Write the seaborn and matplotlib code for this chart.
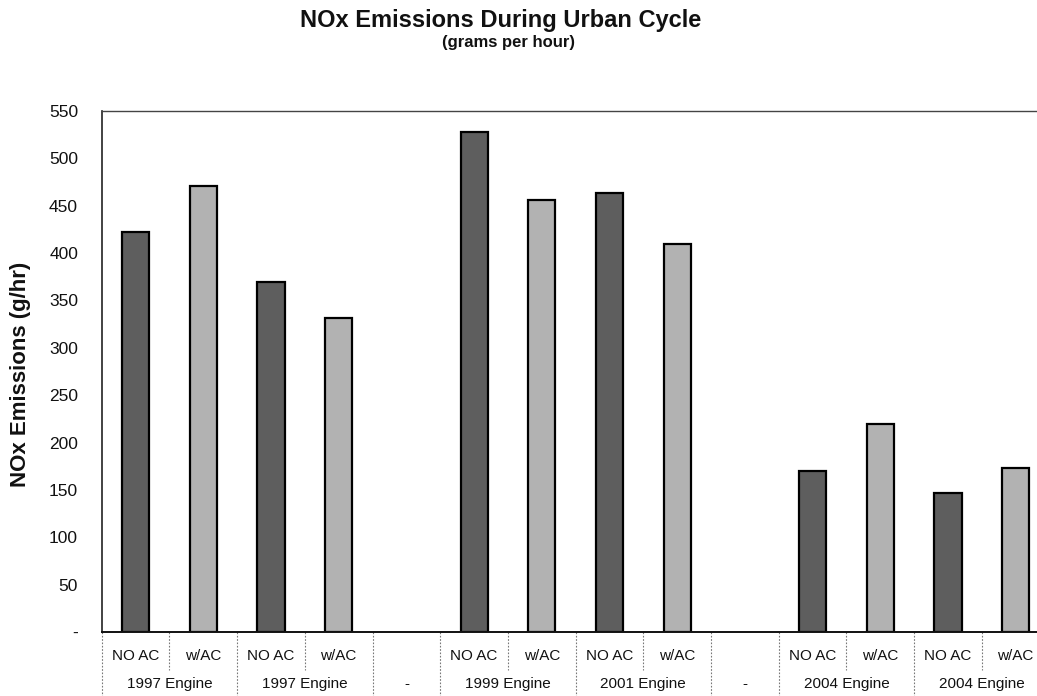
import numpy as np
import pandas as pd
import matplotlib
matplotlib.use("Agg")
import matplotlib.pyplot as plt
import matplotlib.transforms as mtransforms
import seaborn as sns

# --- data -------------------------------------------------------------
ac_labels = ["NO AC", "w/AC", "NO AC", "w/AC", "",
             "NO AC", "w/AC", "NO AC", "w/AC", "",
             "NO AC", "w/AC", "NO AC", "w/AC"]
nox_gph = [422, 471, 369, 332, np.nan,
           528, 456, 463, 410, np.nan,
           170, 220, 147, 173]
engine_groups = ["1997 Engine", "1997 Engine", "-", "1999 Engine",
                 "2001 Engine", "-", "2004 Engine", "2004 Engine"]
group_sizes = [2, 2, 1, 2, 2, 1, 2, 2]
y_ticks = list(range(0, 551, 50))

title = "NOx Emissions During Urban Cycle"
subtitle = "(grams per hour)"
y_label = "NOx Emissions (g/hr)"

# --- styling ----------------------------------------------------------
sns.set_theme(style="white")
plt.rcParams["font.family"] = ["Liberation Sans", "DejaVu Sans"]

slots = [str(i) for i in range(len(ac_labels))]
df = pd.DataFrame({"slot": slots, "cond": ac_labels, "nox": nox_gph}).dropna()

fig = plt.figure(figsize=(10.37, 6.96), dpi=100)
ax = fig.add_axes([0.0981, 0.092, 0.914, 0.7485])

sns.barplot(data=df, x="slot", y="nox", hue="cond", order=slots,
            hue_order=["NO AC", "w/AC"],
            palette={"NO AC": "#5e5e5e", "w/AC": "#b2b2b2"},
            dodge=False, width=0.4, edgecolor="black", linewidth=1.6,
            errorbar=None, legend=False, ax=ax)

ax.set_xlim(-0.5, len(slots) - 0.5)
ax.set_ylim(0, 550)
ax.set_xlabel("")
ax.set_ylabel("")

ax.set_yticks(y_ticks, labels=["-" if v == 0 else str(v) for v in y_ticks])
ax.tick_params(axis="y", length=0, pad=17, labelsize=12.5, labelcolor="#111")
ax.set_xticks(range(len(slots)), labels=ac_labels)
ax.tick_params(axis="x", length=0, pad=12, labelsize=11, labelcolor="#111")

ax.spines["right"].set_visible(False)
ax.spines["left"].set_color("#222")
ax.spines["left"].set_linewidth(1.2)
ax.spines["top"].set_color("#444")
ax.spines["top"].set_linewidth(1.0)
ax.spines["bottom"].set_color("#111")
ax.spines["bottom"].set_linewidth(1.4)

# --- two-level category axis ------------------------------------------
blend = mtransforms.blended_transform_factory(ax.transData, fig.transFigure)
axis_y = 0.092
row1_end = 1 - 670 / 696
edges = np.concatenate([[0], np.cumsum(group_sizes)]) - 0.5
for e in edges:
    ax.plot([e, e], [axis_y, 0.0], transform=blend, clip_on=False,
            color="#777", lw=0.8, ls=(0, (1.5, 1.5)))
start = 0
for size, name in zip(group_sizes, engine_groups):
    for k in range(1, size):
        b = start + k - 0.5
        ax.plot([b, b], [axis_y, row1_end], transform=blend, clip_on=False,
                color="#777", lw=0.8, ls=(0, (1.5, 1.5)))
    center = start + (size - 1) / 2
    ax.text(center, 1 - 684 / 696, name, transform=blend, ha="center",
            va="center", fontsize=11, color="#111")
    start += size

# --- titles -----------------------------------------------------------
fig.text(501 / 1037, 1 - 20 / 696, title, ha="center", va="center",
         fontsize=17, fontweight="bold", color="#111")
fig.text(508 / 1037, 1 - 43 / 696, subtitle, ha="center", va="center",
         fontsize=12, fontweight="bold", color="#111")
fig.text(21 / 1037, 1 - 374 / 696, y_label, ha="center", va="center",
         rotation=90, fontsize=16, fontweight="bold", color="#111")

fig.savefig("out.png", dpi=100)
